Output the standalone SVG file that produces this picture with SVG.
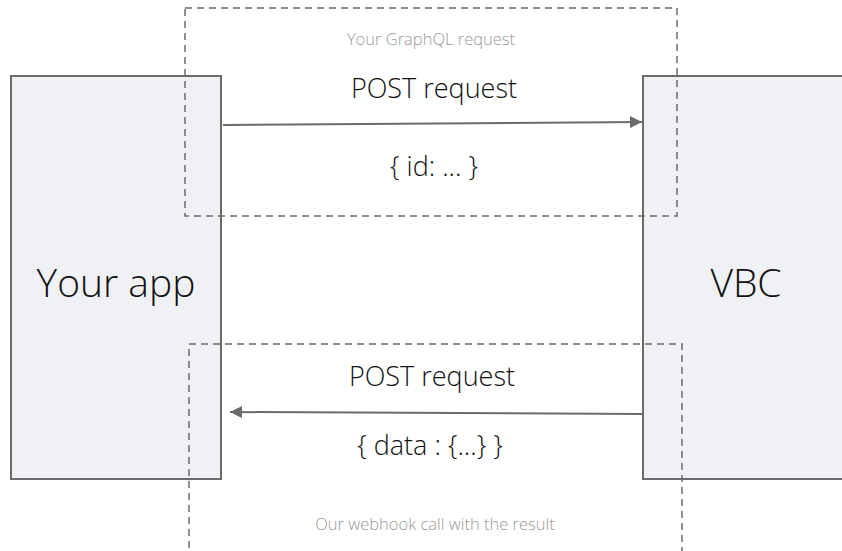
<svg xmlns="http://www.w3.org/2000/svg" width="842" height="551" viewBox="0 0 842 551">
<style>
.box{fill:#f0f1f5;stroke:#6b6b6b;stroke-width:2}
.grp{fill:none;stroke:#6b6b6b;stroke-width:1.5;stroke-dasharray:7 5}
.big{font-family:"Open Sans","Liberation Sans",sans-serif;font-weight:300;font-size:39px;fill:#111;text-anchor:middle}
.lbl{font-family:"Open Sans","Liberation Sans",sans-serif;font-weight:300;font-size:27px;fill:#111;text-anchor:middle}
.cap{font-family:"Open Sans","Liberation Sans",sans-serif;font-weight:300;font-size:16.5px;fill:#999;text-anchor:middle}
.conn{stroke:#6b6b6b;stroke-width:2;fill:none}
</style>
<defs>
<marker id="ah" viewBox="0 0 10 10" refX="10" refY="5" markerWidth="6" markerHeight="6" markerUnits="strokeWidth" orient="auto">
<path d="M0,0 L10,5 L0,10 z" fill="#6b6b6b"/>
</marker>
</defs>
<g id="app">
<rect class="box" x="11" y="76" width="210" height="403"/>
<text class="big" x="116" y="297">Your app</text>
</g>
<g id="vbc">
<rect class="box" x="643" y="76" width="210" height="403"/>
<text class="big" x="746" y="297">VBC</text>
</g>
<g id="connectors">
<line class="conn" x1="223" y1="125" x2="642" y2="122" marker-end="url(#ah)"/>
<line class="conn" x1="643" y1="414" x2="230" y2="412" marker-end="url(#ah)"/>
</g>
<g id="graphql-request">
<rect class="grp" x="185" y="8" width="492" height="208"/>
<text class="cap" x="431" y="45">Your GraphQL request</text>
<text class="lbl" x="434" y="98">POST request</text>
<text class="lbl" x="434" y="176">{ id: ... }</text>
</g>
<g id="webhook-call">
<path class="grp" d="M189,560 V344 H682 V560"/>
<text class="lbl" x="432" y="386">POST request</text>
<text class="lbl" x="430" y="455">{ data : {...} }</text>
<text class="cap" x="435" y="530">Our webhook call with the result</text>
</g>
</svg>
